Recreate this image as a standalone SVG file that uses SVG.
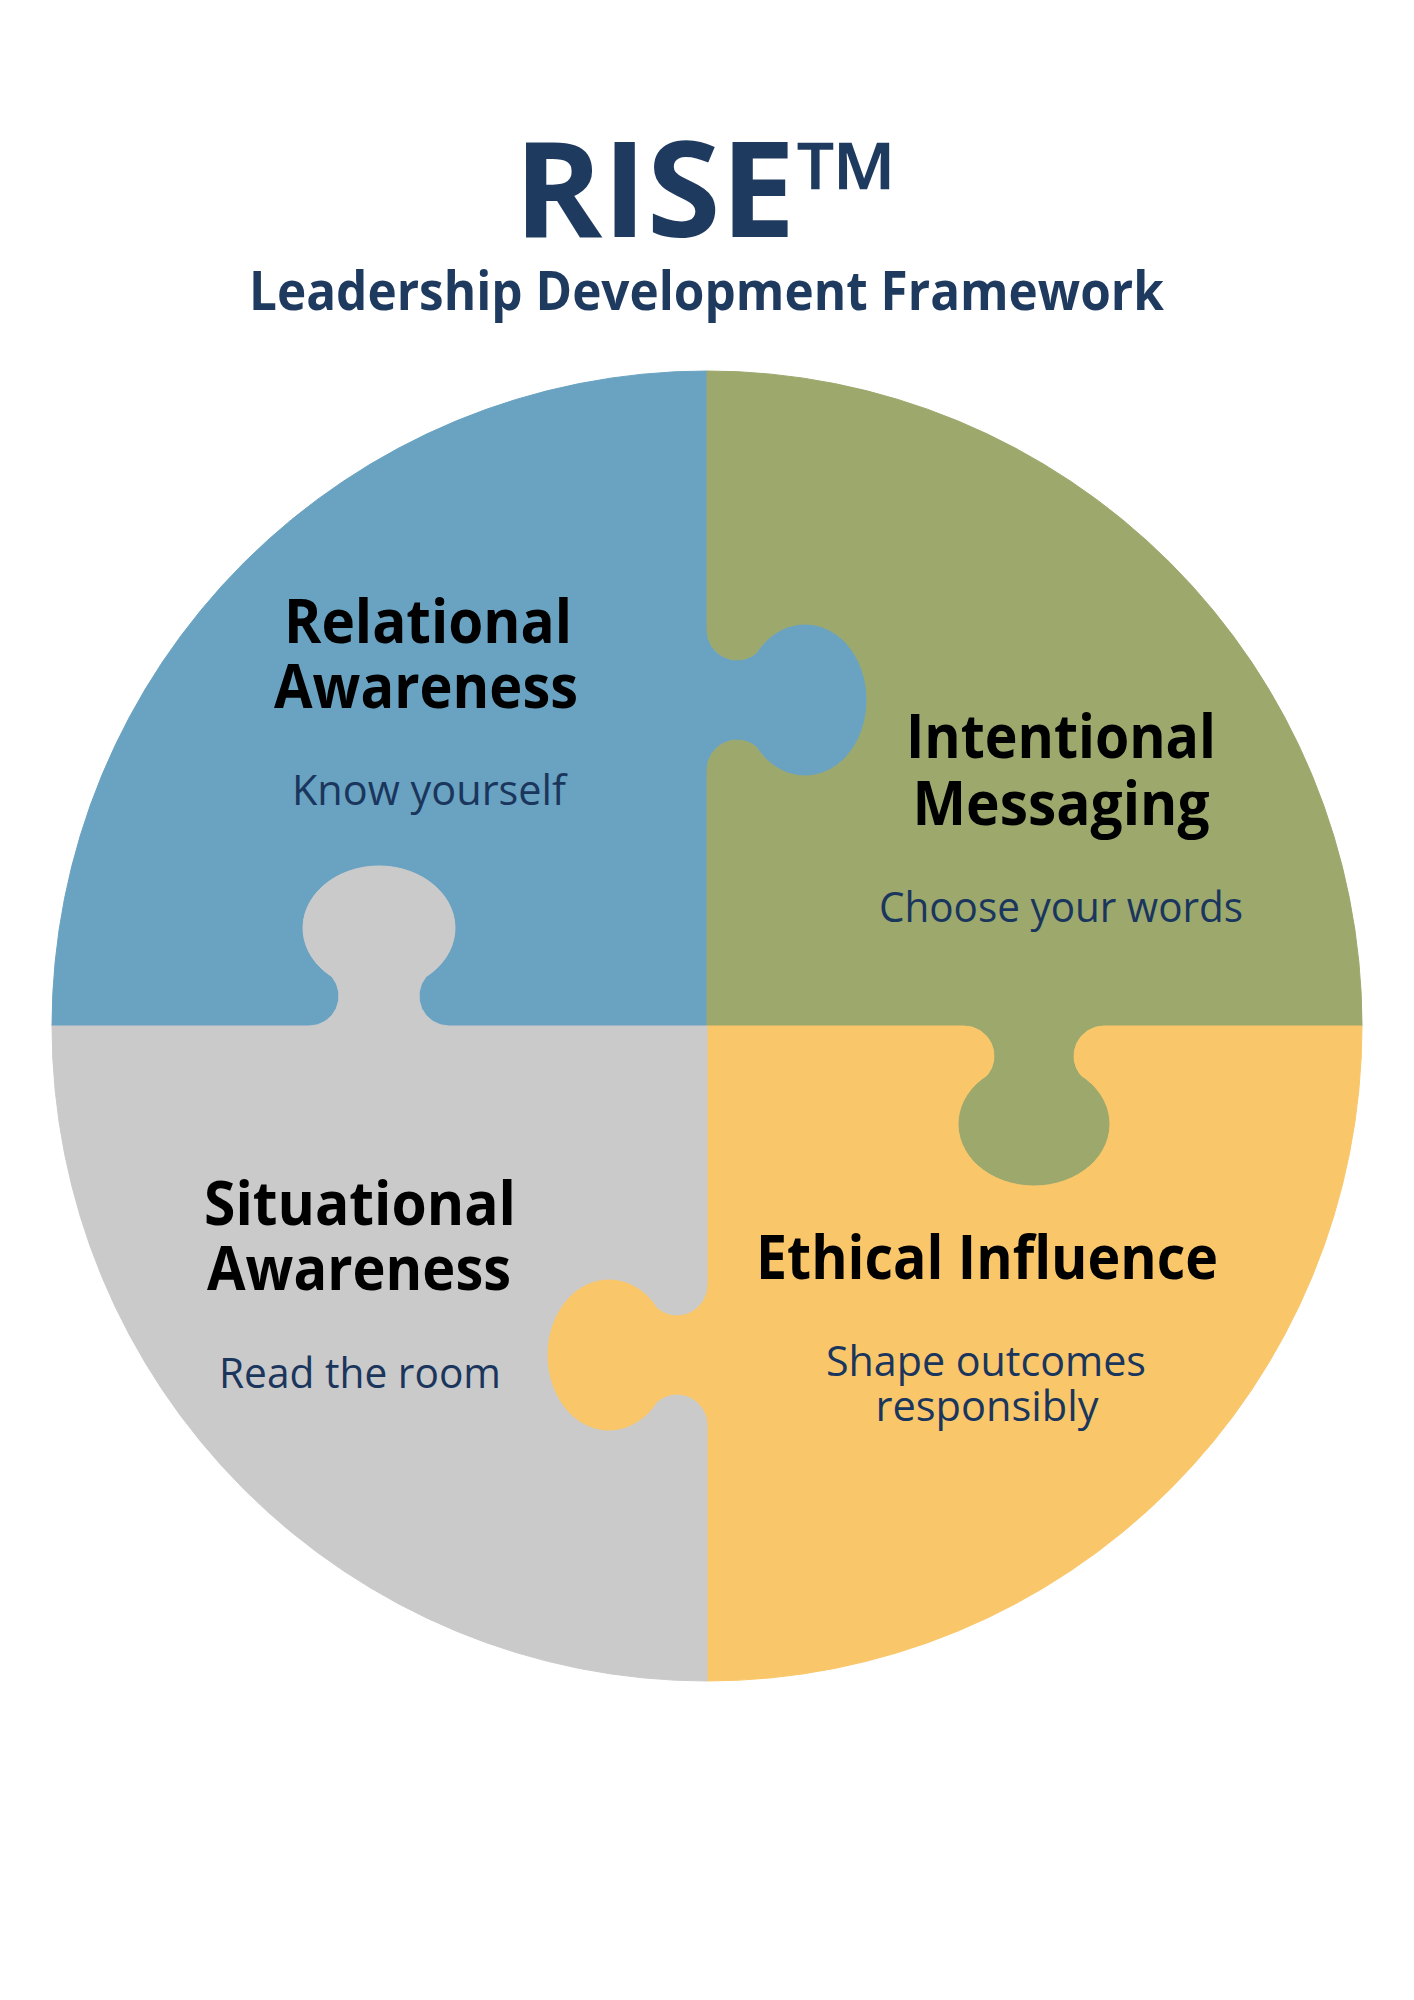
<svg xmlns="http://www.w3.org/2000/svg" width="1414" height="2000" viewBox="0 0 1414 2000">
  <style>
    .title { font-family: "Open Sans", "Noto Sans", sans-serif; font-weight: 700; fill: #1F3A5F; }
    .head { font-family: "Open Sans", "Noto Sans", sans-serif; font-weight: 700; font-size: 60px; fill: #000000; text-anchor: middle; }
    .sub { font-family: "Open Sans", "Noto Sans", sans-serif; font-weight: 400; font-size: 42px; fill: #1B365D; text-anchor: middle; }
    .piece { stroke-width: 1; stroke-linejoin: round; }
  </style>
  <rect x="0" y="0" width="1414" height="2000" fill="#FFFFFF"/>

  <g id="header">
    <text class="title" x="514" y="237" font-size="132" textLength="385" lengthAdjust="spacingAndGlyphs">RISE™</text>
    <text class="title" x="249" y="310" font-size="53" textLength="915" lengthAdjust="spacingAndGlyphs">Leadership Development Framework</text>
  </g>

  <g id="relational-awareness">
    <path class="piece" fill="#69A3C1" stroke="#69A3C1" d="M707,1026 L707,770 A30,30 0 0 1 756.3,747 A62,76 0 1 0 756.3,653 A30,30 0 0 1 707,630 L707,371 A655,655 0 0 0 52,1026 L309,1026 A30,30 0 0 0 332,976.7 A76,62 0 1 1 426,976.7 A30,30 0 0 0 449,1026 Z"/>
    <text class="head" x="428" y="643" textLength="288" lengthAdjust="spacingAndGlyphs">Relational</text>
    <text class="head" x="426" y="708" textLength="304" lengthAdjust="spacingAndGlyphs">Awareness</text>
    <text class="sub" x="429" y="805" textLength="274" lengthAdjust="spacingAndGlyphs">Know yourself</text>
  </g>

  <g id="intentional-messaging">
    <path class="piece" fill="#9DA86D" stroke="#9DA86D" d="M707,1026 L707,770 A30,30 0 0 1 756.3,747 A62,76 0 1 0 756.3,653 A30,30 0 0 1 707,630 L707,371 A655,655 0 0 1 1362,1026 L1104,1026 A30,30 0 0 0 1081,1075.3 A76,62 0 1 1 987,1075.3 A30,30 0 0 0 964,1026 Z"/>
    <text class="head" x="1061" y="758" textLength="310" lengthAdjust="spacingAndGlyphs">Intentional</text>
    <text class="head" x="1061" y="825" textLength="297" lengthAdjust="spacingAndGlyphs">Messaging</text>
    <text class="sub" x="1061" y="922" textLength="364" lengthAdjust="spacingAndGlyphs">Choose your words</text>
  </g>

  <g id="ethical-influence">
    <path class="piece" fill="#F9C76A" stroke="#F9C76A" d="M707,1026 L964,1026 A30,30 0 0 1 987,1075.3 A76,62 0 1 0 1081,1075.3 A30,30 0 0 1 1104,1026 L1362,1026 A655,655 0 0 1 707,1681 L707,1425 A30,30 0 0 0 657.7,1402 A62,76 0 1 1 657.7,1308 A30,30 0 0 0 707,1285 Z"/>
    <text class="head" x="987" y="1279" textLength="462" lengthAdjust="spacingAndGlyphs">Ethical Influence</text>
    <text class="sub" x="986" y="1376" textLength="320" lengthAdjust="spacingAndGlyphs">Shape outcomes</text>
    <text class="sub" x="987" y="1421" textLength="223" lengthAdjust="spacingAndGlyphs">responsibly</text>
  </g>

  <g id="situational-awareness">
    <path class="piece" fill="#CACACA" stroke="#CACACA" d="M707,1026 L707,1285 A30,30 0 0 1 657.7,1308 A62,76 0 1 0 657.7,1402 A30,30 0 0 1 707,1425 L707,1681 A655,655 0 0 1 52,1026 L309,1026 A30,30 0 0 0 332,976.7 A76,62 0 1 1 426,976.7 A30,30 0 0 0 449,1026 Z"/>
    <text class="head" x="360" y="1225" textLength="312" lengthAdjust="spacingAndGlyphs">Situational</text>
    <text class="head" x="359" y="1290" textLength="304" lengthAdjust="spacingAndGlyphs">Awareness</text>
    <text class="sub" x="360" y="1388" textLength="282" lengthAdjust="spacingAndGlyphs">Read the room</text>
  </g>

  <g id="connectors"></g>
</svg>
